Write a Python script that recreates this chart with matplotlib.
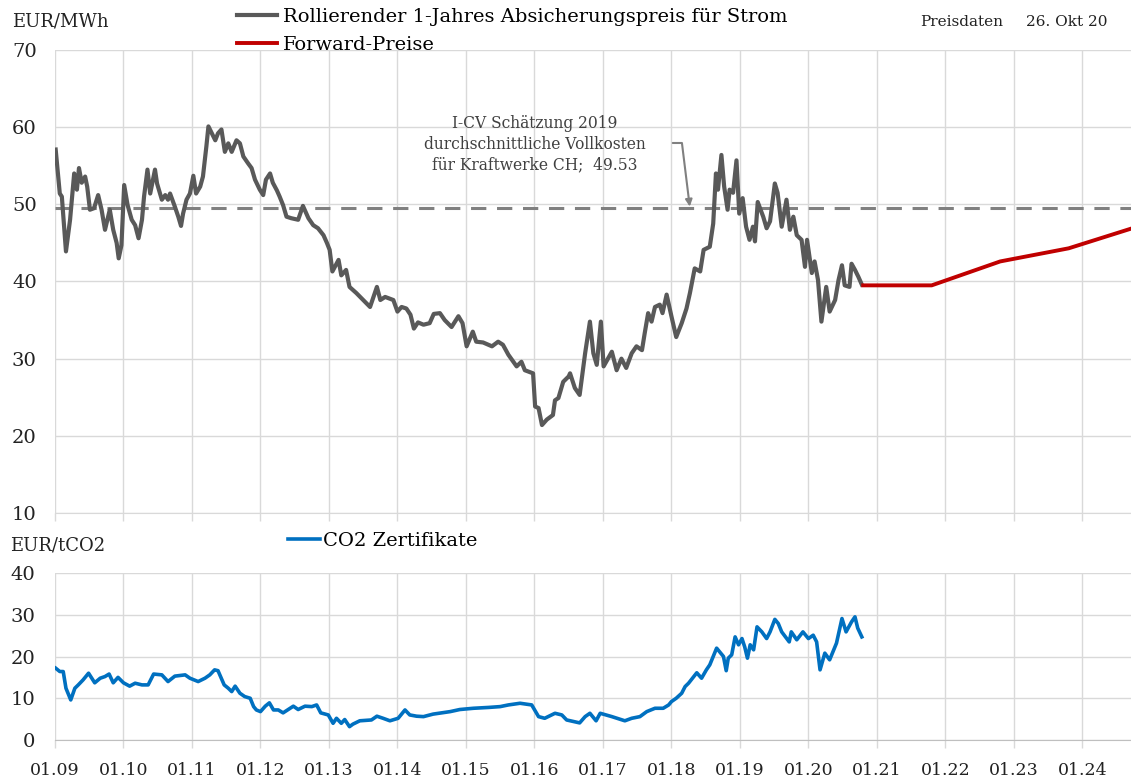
import matplotlib
matplotlib.use("Agg")
import matplotlib.pyplot as plt
import numpy as np

plt.rcParams.update({
    "font.family": ["DejaVu Serif"],
    "font.size": 12,
})

C_STROM = "#595959"
C_FWD = "#C00000"
C_CO2 = "#0070C0"
C_GRID = "#D9D9D9"
C_REF = "#808080"

# rolling 1-year hedge price (EUR/MWh), decimal years
strom_t = [2009.01, 2009.07, 2009.10, 2009.16, 2009.22, 2009.28, 2009.32, 2009.35, 2009.39, 2009.44,
           2009.47, 2009.51, 2009.57, 2009.63, 2009.68, 2009.73, 2009.80, 2009.85, 2009.90, 2009.93,
           2009.97, 2010.01, 2010.06, 2010.12, 2010.17, 2010.22, 2010.27, 2010.30, 2010.35, 2010.39,
           2010.46, 2010.49, 2010.56, 2010.61, 2010.65, 2010.68, 2010.75, 2010.80, 2010.84, 2010.87,
           2010.92, 2010.97, 2011.02, 2011.06, 2011.12, 2011.16, 2011.21, 2011.24, 2011.29, 2011.34,
           2011.38, 2011.43, 2011.48, 2011.53, 2011.58, 2011.65, 2011.70, 2011.75, 2011.82, 2011.87,
           2011.92, 2011.99, 2012.04, 2012.08, 2012.14, 2012.18, 2012.24, 2012.28, 2012.33, 2012.38,
           2012.45, 2012.55, 2012.62, 2012.70, 2012.77, 2012.84, 2012.92, 2012.97, 2013.01, 2013.05,
           2013.14, 2013.18, 2013.25, 2013.30, 2013.40, 2013.50, 2013.60, 2013.70, 2013.75, 2013.82,
           2013.94, 2014.00, 2014.06, 2014.13, 2014.19, 2014.24, 2014.30, 2014.38, 2014.47, 2014.53,
           2014.62, 2014.69, 2014.79, 2014.89, 2014.95, 2015.01, 2015.10, 2015.15, 2015.25, 2015.38,
           2015.47, 2015.54, 2015.62, 2015.74, 2015.81, 2015.86, 2015.98, 2016.01, 2016.06, 2016.11,
           2016.18, 2016.27, 2016.30, 2016.35, 2016.42, 2016.50, 2016.52, 2016.59, 2016.66, 2016.74,
           2016.81, 2016.86, 2016.91, 2016.97, 2017.01, 2017.13, 2017.20, 2017.27, 2017.34, 2017.42,
           2017.49, 2017.57, 2017.61, 2017.66, 2017.71, 2017.76, 2017.83, 2017.87, 2017.93, 2018.00,
           2018.07, 2018.15, 2018.22, 2018.27, 2018.34, 2018.42, 2018.47, 2018.56, 2018.61, 2018.65,
           2018.68, 2018.73, 2018.77, 2018.82, 2018.85, 2018.90, 2018.95, 2018.99, 2019.04, 2019.09,
           2019.14, 2019.19, 2019.22, 2019.26, 2019.34, 2019.39, 2019.44, 2019.51, 2019.55, 2019.61,
           2019.68, 2019.73, 2019.78, 2019.83, 2019.90, 2019.95, 2019.98, 2020.05, 2020.09, 2020.14,
           2020.19, 2020.26, 2020.31, 2020.39, 2020.44, 2020.49, 2020.53, 2020.60, 2020.63, 2020.68,
           2020.73, 2020.78]
strom_v = [57.1, 51.4, 51.0, 43.9, 48.0, 54.0, 51.9, 54.7, 52.8, 53.6,
           52.3, 49.3, 49.5, 51.2, 49.3, 46.7, 49.3, 46.7, 45.0, 43.0,
           44.7, 52.5, 49.9, 48.0, 47.3, 45.6, 48.0, 51.0, 54.5, 51.4,
           54.5, 52.7, 50.6, 51.2, 50.6, 51.4, 49.7, 48.4, 47.2, 48.8,
           50.6, 51.4, 53.7, 51.4, 52.3, 53.6, 57.5, 60.1, 59.2, 58.3,
           59.2, 59.7, 56.8, 57.9, 56.8, 58.3, 57.9, 56.2, 55.3, 54.7,
           53.2, 51.9, 51.2, 53.2, 54.0, 52.8, 51.8, 51.0, 49.9, 48.4,
           48.2, 48.0, 49.8, 48.2, 47.3, 46.9, 46.0, 45.0, 44.1, 41.3,
           42.8, 40.8, 41.5, 39.3, 38.5, 37.6, 36.7, 39.3, 37.6, 38.0,
           37.6, 36.1, 36.7, 36.5, 35.7, 33.9, 34.7, 34.4, 34.6, 35.8,
           35.9, 35.0, 34.1, 35.5, 34.6, 31.6, 33.5, 32.2, 32.1, 31.6,
           32.2, 31.8, 30.5, 29.0, 29.6, 28.5, 28.1, 23.8, 23.6, 21.4,
           22.1, 22.7, 24.6, 24.9, 27.0, 27.7, 28.1, 26.2, 25.3, 30.7,
           34.8, 30.7, 29.2, 34.8, 29.0, 30.9, 28.5, 30.0, 28.8, 30.7,
           31.6, 31.1, 33.3, 35.9, 34.8, 36.7, 37.0, 35.9, 38.3, 35.5,
           32.8, 34.6, 36.5, 38.5, 41.7, 41.3, 44.1, 44.5, 47.5, 54.0,
           51.9, 56.4, 52.3, 49.3, 51.9, 51.5, 55.7, 48.8, 50.8, 47.1,
           45.4, 47.1, 45.2, 50.3, 48.4, 46.9, 47.8, 52.7, 51.5, 47.1,
           50.6, 46.7, 48.4, 46.0, 45.4, 41.9, 45.4, 41.1, 42.6, 40.2,
           34.8, 39.3, 36.1, 37.6, 40.2, 42.1, 39.5, 39.3, 42.3, 41.5,
           40.6, 39.6]

# forward prices (EUR/MWh)
fwd_t = [2020.80, 2021.80, 2022.80, 2023.80, 2024.80]
fwd_v = [39.5, 39.5, 42.6, 44.3, 47.1]

# reference: full cost estimate
vollkosten = 49.53

# CO2 certificates (EUR/tCO2)
co2_t = [2009.01, 2009.07, 2009.12, 2009.16, 2009.23, 2009.29, 2009.34, 2009.41, 2009.49, 2009.58,
         2009.66, 2009.73, 2009.79, 2009.85, 2009.92, 2010.00, 2010.09, 2010.17, 2010.27, 2010.36,
         2010.44, 2010.56, 2010.65, 2010.75, 2010.90, 2010.97, 2011.09, 2011.19, 2011.26, 2011.33,
         2011.38, 2011.47, 2011.53, 2011.58, 2011.63, 2011.70, 2011.77, 2011.85, 2011.90, 2011.94,
         2012.00, 2012.07, 2012.13, 2012.19, 2012.26, 2012.33, 2012.48, 2012.55, 2012.65, 2012.75,
         2012.82, 2012.88, 2012.99, 2013.06, 2013.11, 2013.18, 2013.23, 2013.30, 2013.35, 2013.45,
         2013.62, 2013.70, 2013.79, 2013.89, 2014.01, 2014.11, 2014.18, 2014.28, 2014.38, 2014.52,
         2014.77, 2014.91, 2015.11, 2015.33, 2015.50, 2015.62, 2015.79, 2015.96, 2016.06, 2016.15,
         2016.30, 2016.40, 2016.47, 2016.66, 2016.74, 2016.81, 2016.90, 2016.96, 2017.13, 2017.32,
         2017.42, 2017.54, 2017.64, 2017.76, 2017.88, 2017.96, 2018.00, 2018.07, 2018.15, 2018.20,
         2018.25, 2018.37, 2018.44, 2018.51, 2018.56, 2018.61, 2018.66, 2018.76, 2018.80, 2018.83,
         2018.88, 2018.93, 2018.98, 2019.03, 2019.07, 2019.11, 2019.15, 2019.20, 2019.25, 2019.32,
         2019.39, 2019.44, 2019.51, 2019.56, 2019.61, 2019.72, 2019.75, 2019.83, 2019.92, 2020.00,
         2020.07, 2020.12, 2020.17, 2020.24, 2020.31, 2020.41, 2020.49, 2020.55, 2020.63, 2020.68,
         2020.72, 2020.78]
co2_v = [17.2, 16.4, 16.4, 12.4, 9.6, 12.4, 13.2, 14.4, 16.0, 13.7,
         14.8, 15.2, 15.8, 13.7, 15.0, 13.7, 12.9, 13.6, 13.2, 13.2,
         15.8, 15.6, 14.0, 15.3, 15.6, 14.8, 14.0, 14.8, 15.6, 16.8,
         16.6, 13.2, 12.4, 11.6, 12.9, 11.2, 10.4, 10.0, 8.0, 7.2,
         6.8, 8.1, 8.9, 7.2, 7.2, 6.5, 8.1, 7.3, 8.1, 8.0,
         8.4, 6.5, 6.0, 4.0, 5.2, 4.0, 4.9, 3.2, 3.8, 4.6,
         4.8, 5.7, 5.2, 4.6, 5.2, 7.2, 6.0, 5.7, 5.6, 6.2,
         6.8, 7.3, 7.6, 7.8, 8.0, 8.4, 8.8, 8.4, 5.6, 5.2,
         6.4, 6.0, 4.8, 4.1, 5.6, 6.4, 4.6, 6.4, 5.6, 4.6,
         5.2, 5.6, 6.8, 7.6, 7.6, 8.4, 9.2, 10.0, 11.2, 12.8,
         13.6, 16.1, 14.8, 16.8, 18.0, 20.0, 22.0, 20.0, 16.6, 19.6,
         20.4, 24.7, 22.8, 24.3, 22.3, 19.6, 22.8, 21.6, 27.1, 25.9,
         24.3, 25.9, 28.9, 27.9, 25.9, 23.5, 25.9, 24.0, 25.9, 24.3,
         25.1, 23.5, 16.8, 20.8, 19.2, 23.2, 29.1, 25.9, 28.3, 29.5,
         26.8, 24.7]

years = list(range(2009, 2025))
year_labels = ["01.%02d" % (y % 100) for y in years]

W, H = 1131, 781
fig = plt.figure(figsize=(W / 100, H / 100), dpi=100)


def px(x0, y0, x1, y1):
    return [x0 / W, 1 - y1 / H, (x1 - x0) / W, (y1 - y0) / H]


ax = fig.add_axes(px(55, 50, 1131, 513))
ax2 = fig.add_axes(px(55, 573, 1131, 740), sharex=ax)

for a in (ax, ax2):
    a.grid(True, color=C_GRID, lw=1.0)
    a.set_axisbelow(True)
    for s in ("top", "right", "left"):
        a.spines[s].set_visible(False)
    a.spines["bottom"].set_color(C_GRID)
    a.tick_params(axis="y", length=0, labelsize=14, colors="#222222")
    a.tick_params(axis="x", length=6, color=C_GRID, width=1.0)

ax.set_xlim(2009.0, 2024.71)
ax.set_xticks(years)
ax.tick_params(axis="x", labelbottom=False)
ax.set_ylim(10, 70)
ax.set_yticks(range(10, 71, 10))
for lab in ax.get_yticklabels():
    lab.set_horizontalalignment("left")
ax.tick_params(axis="y", pad=31)

ax2.set_ylim(0, 40)
ax2.set_yticks(range(0, 41, 10))
ax2.tick_params(axis="y", pad=14)
ax2.spines["bottom"].set_color("#BFBFBF")
ax2.set_xticks(years)
ax2.set_xticklabels(year_labels)
ax2.tick_params(axis="x", labelsize=12.5, pad=10, labelcolor="#222222")

ax.axhline(vollkosten, color=C_REF, lw=2.2, ls=(0, (5, 3.5)), zorder=2)
l1, = ax.plot(strom_t, strom_v, color=C_STROM, lw=3.0, zorder=3,
              label="Rollierender 1-Jahres Absicherungspreis für Strom")
l2, = ax.plot(fwd_t, fwd_v, color=C_FWD, lw=2.8, zorder=3, label="Forward-Preise")
l3, = ax2.plot(co2_t, co2_v, color=C_CO2, lw=2.6, zorder=3, label="CO2 Zertifikate")

ax.text(2016.01, 57.8,
        "I-CV Schätzung 2019\ndurchschnittliche Vollkosten\nfür Kraftwerke CH;  %.2f" % vollkosten,
        ha="center", va="center", fontsize=11.2, color="#404040", linespacing=1.3)
ax.annotate("", xy=(2018.27, vollkosten), xytext=(2018.02, 57.95),
            arrowprops=dict(arrowstyle="-|>", color=C_REF, lw=1.5, shrinkA=0, shrinkB=1,
                            mutation_scale=10,
                            connectionstyle="angle,angleA=0,angleB=97,rad=0"))

fig.legend(handles=[l1, l2], loc="upper left", bbox_to_anchor=(237 / W, 1 - 8 / H),
           frameon=False, fontsize=14, handlelength=2.06, handletextpad=0.3,
           labelspacing=0.5, borderpad=0, borderaxespad=0)
fig.legend(handles=[l3], loc="upper left", bbox_to_anchor=(288 / W, 1 - 532 / H),
           frameon=False, fontsize=14, handlelength=1.65, handletextpad=0.15,
           borderpad=0, borderaxespad=0)

fig.text(12 / W, 1 - 22 / H, "EUR/MWh", fontsize=13, va="center", ha="left", color="#222222")
fig.text(10 / W, 1 - 545 / H, "EUR/tCO2", fontsize=13, va="center", ha="left", color="#222222")
fig.text(920 / W, 1 - 22 / H, "Preisdaten", fontsize=11, va="center", ha="left", color="#222222")
fig.text(1108 / W, 1 - 22 / H, "26. Okt 20", fontsize=11, va="center", ha="right", color="#222222")

fig.savefig("out.png", dpi=100)
